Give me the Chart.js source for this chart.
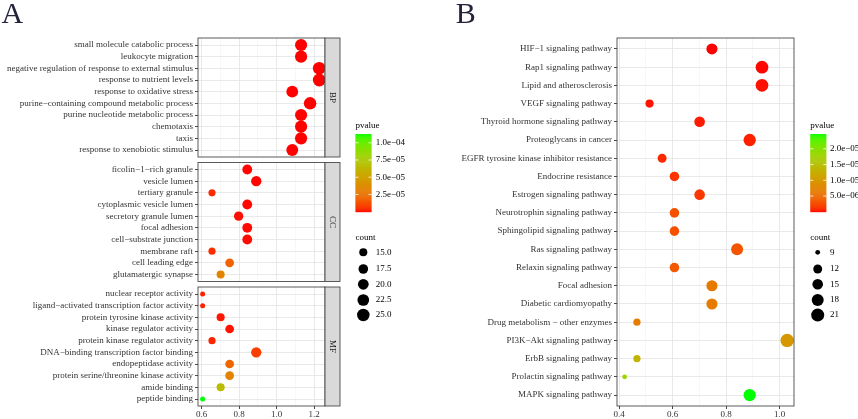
<!DOCTYPE html>
<html>
<head>
<meta charset="utf-8">
<script src="https://cdn.jsdelivr.net/npm/chart.js@4.4.1/dist/chart.umd.min.js"></script>
<style>
  html, body { margin: 0; padding: 0; background: #fff; }
  #wrap { position: relative; width: 858px; height: 419px; overflow: hidden; }
  .box { position: absolute; top: 0; height: 419px; }
  #boxA { left: 0; width: 420px; }
  #boxB { left: 420px; width: 438px; }
</style>
</head>
<body>
<div id="wrap">
  <div class="box" id="boxA"><canvas id="chartA"></canvas></div>
  <div class="box" id="boxB"><canvas id="chartB"></canvas></div>
</div>
<script>
// ---------- panel A: GO enrichment, three facets ----------
const bpTerms = ['small molecule catabolic process', 'leukocyte migration',
  'negative regulation of response to external stimulus', 'response to nutrient levels',
  'response to oxidative stress', 'purine−containing compound metabolic process',
  'purine nucleotide metabolic process', 'chemotaxis', 'taxis', 'response to xenobiotic stimulus'];
const bpRatio = [1.130, 1.130, 1.227, 1.227, 1.083, 1.178, 1.130, 1.130, 1.130, 1.083];
const bpCount = [24, 24, 26, 26, 23, 25, 24, 24, 24, 23];
const bpP = [4.1e-9, 6.3e-9, 2.2e-11, 8.5e-10, 3.6e-8, 1.5e-9, 2.7e-8, 1.1e-8, 1.1e-8, 5.2e-8];

const ccTerms = ['ficolin−1−rich granule', 'vesicle lumen', 'tertiary granule',
  'cytoplasmic vesicle lumen', 'secretory granule lumen', 'focal adhesion',
  'cell−substrate junction', 'membrane raft', 'cell leading edge', 'glutamatergic synapse'];
const ccRatio = [0.843, 0.891, 0.655, 0.843, 0.797, 0.843, 0.843, 0.655, 0.749, 0.701];
const ccCount = [18, 19, 14, 18, 17, 18, 18, 14, 16, 15];
const ccP = [2.4e-7, 1.8e-7, 3.9e-6, 3.1e-7, 8.6e-7, 5.3e-7, 6.0e-7, 4.6e-6, 2.0e-5, 3.4e-5];

const mfTerms = ['nuclear receptor activity', 'ligand−activated transcription factor activity',
  'protein tyrosine kinase activity', 'kinase regulator activity', 'protein kinase regulator activity',
  'DNA−binding transcription factor binding', 'endopeptidase activity',
  'protein serine/threonine kinase activity', 'amide binding', 'peptide binding'];
const mfRatio = [0.605, 0.605, 0.701, 0.749, 0.655, 0.891, 0.749, 0.749, 0.701, 0.605];
const mfCount = [13, 13, 15, 16, 14, 19, 16, 16, 15, 13];
const mfP = [2.6e-6, 2.6e-6, 1.4e-6, 1.1e-6, 3.2e-6, 8.1e-6, 2.1e-5, 3.4e-5, 6.6e-5, 1.127e-4];

const aTicks = [0.6, 0.7, 0.8, 0.9, 1.0, 1.1, 1.2];
const aPBreaks = [2.5e-5, 5.0e-5, 7.5e-5, 1.0e-4];
const aPLabels = ['2.5e−05', '5.0e−05', '7.5e−05', '1.0e−04'];
const aCountBreaks = [15, 17.5, 20, 22.5, 25];
const aCountLabels = ['15.0', '17.5', '20.0', '22.5', '25.0'];

// ---------- panel B: KEGG pathways ----------
const keggTerms = ['HIF−1 signaling pathway', 'Rap1 signaling pathway', 'Lipid and atherosclerosis',
  'VEGF signaling pathway', 'Thyroid hormone signaling pathway', 'Proteoglycans in cancer',
  'EGFR tyrosine kinase inhibitor resistance', 'Endocrine resistance', 'Estrogen signaling pathway',
  'Neurotrophin signaling pathway', 'Sphingolipid signaling pathway', 'Ras signaling pathway',
  'Relaxin signaling pathway', 'Focal adhesion', 'Diabetic cardiomyopathy',
  'Drug metabolism − other enzymes', 'PI3K−Akt signaling pathway', 'ErbB signaling pathway',
  'Prolactin signaling pathway', 'MAPK signaling pathway'];
const keggRatio = [0.747, 0.934, 0.934, 0.514, 0.701, 0.888, 0.561, 0.607, 0.701, 0.607,
  0.607, 0.841, 0.607, 0.747, 0.747, 0.467, 1.028, 0.467, 0.421, 0.888];
const keggCount = [16, 20, 20, 11, 15, 19, 12, 13, 15, 13, 13, 18, 13, 16, 16, 10, 22, 10, 9, 19];
const keggP = [4.0e-8, 1.2e-7, 2.3e-7, 3.1e-7, 4.4e-7, 6.0e-7, 8.2e-7, 1.3e-6, 1.5e-6, 2.9e-6,
  3.0e-6, 3.2e-6, 3.6e-6, 6.6e-6, 6.7e-6, 6.9e-6, 1.0e-5, 1.36e-5, 1.83e-5, 2.47e-5];

const bTicks = [0.4, 0.5, 0.6, 0.7, 0.8, 0.9, 1.0];
const bPBreaks = [5.0e-6, 1.0e-5, 1.5e-5, 2.0e-5];
const bPLabels = ['5.0e−06', '1.0e−05', '1.5e−05', '2.0e−05'];
const bCountBreaks = [9, 12, 15, 18, 21];
const bCountLabels = ['9', '12', '15', '18', '21'];

// ---------- helpers ----------
const SERIF = '"Liberation Serif", "DejaVu Serif", serif';
const AXIS_TEXT = '#333';

// red -> green gradient interpolated in Lab, like ggplot's scale_colour_gradient
function toLinear(c) { c /= 255; return c <= 0.04045 ? c / 12.92 : Math.pow((c + 0.055) / 1.055, 2.4); }
function toByte(c) {
  c = c <= 0.0031308 ? 12.92 * c : 1.055 * Math.pow(Math.max(c, 0), 1 / 2.4) - 0.055;
  return Math.round(Math.min(1, Math.max(0, c)) * 255);
}
function rgbToLab(rgb) {
  const [r, g, b] = rgb.map(toLinear);
  const x = (0.4124 * r + 0.3576 * g + 0.1805 * b) / 0.95047;
  const y = 0.2126 * r + 0.7152 * g + 0.0722 * b;
  const z = (0.0193 * r + 0.1192 * g + 0.9505 * b) / 1.08883;
  const f = t => t > 216 / 24389 ? Math.cbrt(t) : (24389 / 27 * t + 16) / 116;
  return [116 * f(y) - 16, 500 * (f(x) - f(y)), 200 * (f(y) - f(z))];
}
function labToRgb([L, a, bb]) {
  const fy = (L + 16) / 116, fx = fy + a / 500, fz = fy - bb / 200;
  const inv = t => t * t * t > 216 / 24389 ? t * t * t : (116 * t - 16) / (24389 / 27);
  const x = inv(fx) * 0.95047, y = inv(fy), z = inv(fz) * 1.08883;
  const r = 3.2406 * x - 1.5372 * y - 0.4986 * z;
  const g = -0.9689 * x + 1.8758 * y + 0.0415 * z;
  const b = 0.0557 * x - 0.2040 * y + 1.0570 * z;
  return 'rgb(' + toByte(r) + ',' + toByte(g) + ',' + toByte(b) + ')';
}
const LOW = rgbToLab([255, 0, 0]);
const HIGH = rgbToLab([0, 255, 0]);
function gradient(min, max) {
  return v => {
    const t = Math.min(1, Math.max(0, (v - min) / (max - min)));
    return labToRgb(LOW.map((l, i) => l + (HIGH[i] - l) * t));
  };
}
// point diameter grows with sqrt of count (area scale)
function sizeScale(cmin, cmax, dmin, dmax) {
  return c => dmin + (dmax - dmin) * Math.sqrt(Math.max(0, (c - cmin) / (cmax - cmin)));
}
const isMajor = v => Math.round(v * 10) % 2 === 0;

function xAxis(min, max, ticks) {
  return {
    type: 'linear', position: 'bottom', min, max,
    afterBuildTicks: s => { s.ticks = ticks.map(v => ({ value: v })); },
    ticks: {
      autoSkip: false, maxRotation: 0, padding: 0, color: AXIS_TEXT,
      font: { family: SERIF, size: 9 },
      callback: v => isMajor(v) ? v.toFixed(1) : ''
    },
    grid: {
      color: c => isMajor(c.tick.value) ? '#e6e6e6' : '#f2f2f2',
      lineWidth: c => isMajor(c.tick.value) ? 0.9 : 0.6,
      tickColor: c => isMajor(c.tick.value) ? '#333' : 'rgba(0,0,0,0)',
      tickLength: 3
    },
    border: { display: false },
    afterFit: s => { s.height = 13; s.paddingLeft = 0; s.paddingRight = 0; }
  };
}
function termAxis(terms, width, extra) {
  return Object.assign({
    type: 'linear', position: 'left', reverse: true,
    min: -0.6, max: terms.length - 0.4,
    afterBuildTicks: s => { s.ticks = terms.map((t, i) => ({ value: i })); },
    ticks: {
      autoSkip: false, padding: 2, color: AXIS_TEXT,
      font: { family: SERIF, size: 9 },
      callback: v => terms[v]
    },
    grid: { color: '#e6e6e6', lineWidth: 0.9, tickColor: '#333', tickLength: 3 },
    border: { display: false },
    afterFit: s => { s.width = width; s.paddingTop = 0; s.paddingBottom = 0; }
  }, extra);
}
function gapAxis(weight) {
  return {
    type: 'linear', position: 'left', stack: 'facets', stackWeight: weight,
    ticks: { display: false }, grid: { display: false }, border: { display: false },
    afterFit: s => { s.width = 198; s.paddingTop = 0; s.paddingBottom = 0; }
  };
}

function drawLegends(ctx, L, colorFn, pMin, pMax, sizeFn) {
  ctx.save();
  ctx.fillStyle = '#000';
  ctx.font = '9px ' + SERIF;
  ctx.textAlign = 'left';
  ctx.textBaseline = 'middle';
  ctx.fillText('pvalue', L.x, 126);
  // colour bar
  const top = 134, bottom = 211.7, w = 16, steps = 80;
  for (let i = 0; i < steps; i++) {
    const v = pMin + (pMax - pMin) * (i + 0.5) / steps;
    ctx.fillStyle = colorFn(v);
    const y0 = bottom - (bottom - top) * (i + 1) / steps;
    ctx.fillRect(L.x, y0, w, (bottom - top) / steps + 0.5);
  }
  ctx.strokeStyle = '#fff';
  ctx.lineWidth = 0.8;
  ctx.fillStyle = '#000';
  L.pBreaks.forEach((v, i) => {
    const y = bottom - (bottom - top) * (v - pMin) / (pMax - pMin);
    ctx.beginPath();
    ctx.moveTo(L.x, y); ctx.lineTo(L.x + 3, y);
    ctx.moveTo(L.x + w - 3, y); ctx.lineTo(L.x + w, y);
    ctx.stroke();
    ctx.fillText(L.pLabels[i], L.labelX, y);
  });
  // size legend
  ctx.fillText('count', L.x, 237.3);
  const ys = [252.3, 269, 284.3, 300, 315];
  L.cBreaks.forEach((c, i) => {
    ctx.beginPath();
    ctx.arc(L.dotX, ys[i], sizeFn(c) / 2, 0, Math.PI * 2);
    ctx.fillStyle = '#000';
    ctx.fill();
    ctx.fillText(L.cLabels[i], L.labelX, ys[i]);
  });
  ctx.restore();
}
function drawLetter(ctx, letter, x) {
  ctx.save();
  ctx.fillStyle = '#23233d';
  ctx.font = '30px ' + SERIF;
  ctx.textBaseline = 'alphabetic';
  ctx.fillText(letter, x, 23.3);
  ctx.restore();
}

// ---------- chart A ----------
const pAll = bpP.concat(ccP, mfP);
const cAll = bpCount.concat(ccCount, mfCount);
const colA = gradient(Math.min(...pAll), Math.max(...pAll));
const sizeA = sizeScale(Math.min(...cAll), Math.max(...cAll), 5.0, 12.8);

const facets = [
  { name: 'BP', terms: bpTerms, ratio: bpRatio, count: bpCount, p: bpP },
  { name: 'CC', terms: ccTerms, ratio: ccRatio, count: ccCount, p: ccP },
  { name: 'MF', terms: mfTerms, ratio: mfRatio, count: mfCount, p: mfP }
];

// stacked left axes are laid out last-defined on top, so define bottom facet first
const scalesA = { x: xAxis(0.5803, 1.2576, aTicks) };
scalesA.yMF = termAxis(mfTerms, 198, { stack: 'facets', stackWeight: 119 });
scalesA.gap2 = gapAxis(5.5);
scalesA.yCC = termAxis(ccTerms, 198, { stack: 'facets', stackWeight: 119 });
scalesA.gap1 = gapAxis(5.5);
scalesA.yBP = termAxis(bpTerms, 198, { stack: 'facets', stackWeight: 119 });

const facetPlugin = {
  id: 'facetDecor',
  beforeDatasetsDraw(chart) {
    // clear the x grid running through the gaps between facets
    const ctx = chart.ctx, a = chart.chartArea;
    ctx.save();
    ctx.fillStyle = '#fff';
    ['gap1', 'gap2'].forEach(id => {
      const s = chart.scales[id];
      ctx.fillRect(a.left - 1, s.top, a.right - a.left + 20, s.bottom - s.top);
    });
    ctx.restore();
  },
  afterDatasetsDraw(chart) {
    const ctx = chart.ctx, a = chart.chartArea;
    ctx.save();
    ctx.lineWidth = 0.9;
    ctx.strokeStyle = '#4a4a4a';
    facets.forEach(f => {
      const s = chart.scales['y' + f.name];
      ctx.strokeRect(a.left, s.top, a.right - a.left, s.bottom - s.top);
      ctx.fillStyle = '#d9d9d9';
      ctx.fillRect(a.right, s.top, 15, s.bottom - s.top);
      ctx.strokeRect(a.right, s.top, 15, s.bottom - s.top);
      ctx.save();
      ctx.translate(a.right + 7.5, (s.top + s.bottom) / 2);
      ctx.rotate(Math.PI / 2);
      ctx.fillStyle = '#1a1a1a';
      ctx.font = '9px ' + SERIF;
      ctx.textAlign = 'center';
      ctx.textBaseline = 'middle';
      ctx.fillText(f.name, 0, 0);
      ctx.restore();
    });
    ctx.restore();
  },
  afterDraw(chart) {
    drawLegends(chart.ctx, {
      x: 355.5, labelX: 375.7, dotX: 363.3,
      pBreaks: aPBreaks, pLabels: aPLabels, cBreaks: aCountBreaks, cLabels: aCountLabels
    }, colA, Math.min(...pAll), Math.max(...pAll), sizeA);
    drawLetter(chart.ctx, 'A', 1.5);
  }
};

new Chart(document.getElementById('chartA'), {
  type: 'scatter',
  data: {
    datasets: facets.map(f => ({
      label: f.name,
      yAxisID: 'y' + f.name,
      data: f.ratio.map((x, i) => ({ x, y: i })),
      pointRadius: f.count.map(c => sizeA(c) / 2),
      pointHoverRadius: f.count.map(c => sizeA(c) / 2),
      pointBackgroundColor: f.p.map(colA),
      pointBorderWidth: 0,
      clip: false
    }))
  },
  options: {
    responsive: true,
    maintainAspectRatio: false,
    animation: false,
    layout: { padding: { top: 38, right: 95, bottom: 0, left: 0 } },
    plugins: { legend: { display: false }, tooltip: { enabled: false } },
    scales: scalesA
  },
  plugins: [facetPlugin]
});

// ---------- chart B ----------
const colB = gradient(Math.min(...keggP), Math.max(...keggP));
const sizeB = sizeScale(Math.min(...keggCount), Math.max(...keggCount), 4.8, 13.4);

const panelBPlugin = {
  id: 'panelB',
  afterDatasetsDraw(chart) {
    const ctx = chart.ctx, a = chart.chartArea;
    ctx.save();
    ctx.lineWidth = 0.9;
    ctx.strokeStyle = '#4a4a4a';
    ctx.strokeRect(a.left, a.top, a.right - a.left, a.bottom - a.top);
    ctx.restore();
  },
  afterDraw(chart) {
    drawLegends(chart.ctx, {
      x: 390.3, labelX: 410, dotX: 397.7,
      pBreaks: bPBreaks, pLabels: bPLabels, cBreaks: bCountBreaks, cLabels: bCountLabels
    }, colB, Math.min(...keggP), Math.max(...keggP), sizeB);
    drawLetter(chart.ctx, 'B', 35.7);
  }
};

new Chart(document.getElementById('chartB'), {
  type: 'scatter',
  data: {
    datasets: [{
      label: 'KEGG',
      data: keggRatio.map((x, i) => ({ x, y: i })),
      pointRadius: keggCount.map(c => sizeB(c) / 2),
      pointHoverRadius: keggCount.map(c => sizeB(c) / 2),
      pointBackgroundColor: keggP.map(colB),
      pointBorderWidth: 0,
      clip: false
    }]
  },
  options: {
    responsive: true,
    maintainAspectRatio: false,
    animation: false,
    layout: { padding: { top: 38, right: 64, bottom: 0, left: 0 } },
    plugins: { legend: { display: false }, tooltip: { enabled: false } },
    scales: {
      x: xAxis(0.3925, 1.0535, bTicks),
      y: termAxis(keggTerms, 197, {})
    }
  },
  plugins: [panelBPlugin]
});
</script>
</body>
</html>
